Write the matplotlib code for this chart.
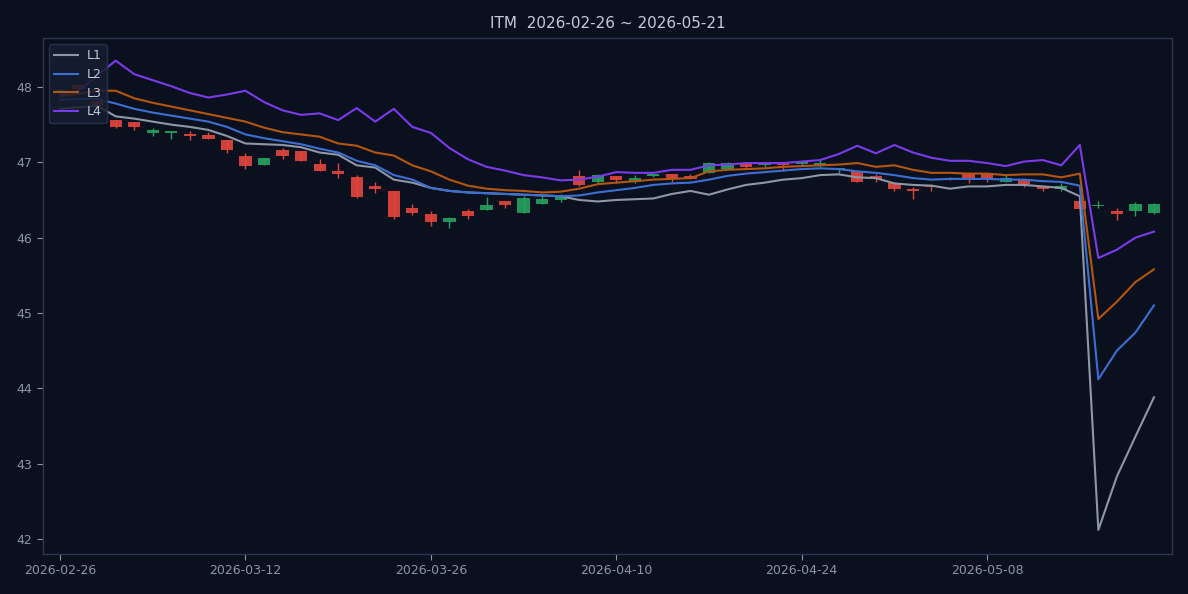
import matplotlib
matplotlib.use("Agg")
import matplotlib.pyplot as plt
from matplotlib.patches import Rectangle
import numpy as np
import pandas as pd

# ---- data ----
dates = [d.strftime("%Y-%m-%d") for d in pd.bdate_range("2026-02-26", "2026-05-21")
         if d.strftime("%Y-%m-%d") != "2026-04-03"]

opens = [47.92, 48.03, 47.82, 47.56, 47.53, 47.39, 47.39, 47.38, 47.36, 47.29,
         47.09, 46.97, 47.16, 47.15, 46.98, 46.89, 46.81, 46.68, 46.62, 46.40,
         46.31, 46.21, 46.35, 46.37, 46.49, 46.33, 46.44, 46.50, 46.82, 46.74,
         46.82, 46.74, 46.82, 46.84, 46.82, 46.86, 46.91, 46.99, 46.96, 46.99,
         46.98, 46.97, 46.91, 46.88, 46.82, 46.72, 46.65, 46.69, 46.79, 46.84,
         46.84, 46.74, 46.76, 46.67, 46.65, 46.48, 46.42, 46.35, 46.35, 46.33]
highs = [47.97, 48.04, 47.83, 47.56, 47.53, 47.45, 47.41, 47.42, 47.40, 47.29,
         47.12, 47.06, 47.19, 47.15, 47.05, 46.99, 46.83, 46.74, 46.62, 46.45,
         46.35, 46.28, 46.38, 46.54, 46.49, 46.55, 46.55, 46.58, 46.90, 46.85,
         46.82, 46.83, 46.85, 46.85, 46.85, 47.01, 47.01, 46.99, 47.00, 47.00,
         47.02, 47.03, 46.93, 46.88, 46.85, 46.74, 46.67, 46.71, 46.81, 46.85,
         46.84, 46.83, 46.76, 46.68, 46.72, 46.48, 46.48, 46.39, 46.47, 46.46]
lows = [47.91, 47.96, 47.74, 47.45, 47.43, 47.35, 47.31, 47.29, 47.31, 47.13,
        46.91, 46.96, 47.04, 47.02, 46.89, 46.79, 46.52, 46.59, 46.25, 46.30,
        46.16, 46.13, 46.25, 46.37, 46.39, 46.33, 46.44, 46.47, 46.69, 46.71,
        46.73, 46.72, 46.80, 46.74, 46.78, 46.86, 46.91, 46.91, 46.94, 46.89,
        46.95, 46.94, 46.86, 46.74, 46.74, 46.62, 46.51, 46.62, 46.77, 46.73,
        46.74, 46.74, 46.67, 46.62, 46.62, 46.38, 46.39, 46.24, 46.29, 46.31]
closes = [47.96, 47.97, 47.75, 47.47, 47.47, 47.43, 47.41, 47.35, 47.31, 47.16,
          46.95, 47.06, 47.08, 47.02, 46.89, 46.85, 46.54, 46.65, 46.28, 46.33,
          46.21, 46.26, 46.29, 46.43, 46.43, 46.53, 46.51, 46.55, 46.70, 46.83,
          46.76, 46.79, 46.85, 46.79, 46.78, 46.99, 46.99, 46.94, 46.97, 46.97,
          47.00, 46.98, 46.92, 46.74, 46.78, 46.64, 46.62, 46.67, 46.78, 46.76,
          46.78, 46.79, 46.71, 46.64, 46.69, 46.38, 46.43, 46.32, 46.45, 46.45]

L1 = [47.71, 47.73, 47.75, 47.61, 47.58, 47.54, 47.50, 47.47, 47.43, 47.35,
      47.25, 47.24, 47.23, 47.20, 47.13, 47.10, 46.96, 46.93, 46.77, 46.73,
      46.66, 46.62, 46.60, 46.59, 46.58, 46.57, 46.56, 46.55, 46.50, 46.48,
      46.50, 46.51, 46.52, 46.58, 46.62, 46.57, 46.64, 46.70, 46.73, 46.77,
      46.79, 46.83, 46.84, 46.80, 46.79, 46.72, 46.70, 46.69, 46.65, 46.68,
      46.68, 46.70, 46.70, 46.68, 46.66, 46.55, 42.12, 42.83, 43.36, 43.88]
L2 = [47.83, 47.84, 47.84, 47.78, 47.71, 47.66, 47.62, 47.58, 47.54, 47.47,
      47.37, 47.32, 47.28, 47.24, 47.18, 47.13, 47.02, 46.96, 46.83, 46.77,
      46.66, 46.62, 46.60, 46.59, 46.58, 46.57, 46.56, 46.55, 46.56, 46.60,
      46.63, 46.66, 46.70, 46.72, 46.73, 46.77, 46.82, 46.85, 46.87, 46.89,
      46.91, 46.92, 46.91, 46.88, 46.86, 46.83, 46.79, 46.77, 46.78, 46.78,
      46.78, 46.77, 46.77, 46.75, 46.74, 46.69, 44.12, 44.50, 44.74, 45.10]
L3 = [47.88, 47.91, 47.95, 47.95, 47.85, 47.79, 47.74, 47.69, 47.64, 47.59,
      47.54, 47.46, 47.40, 47.37, 47.34, 47.25, 47.22, 47.13, 47.09, 46.96,
      46.88, 46.77, 46.69, 46.65, 46.63, 46.62, 46.60, 46.61, 46.65, 46.71,
      46.73, 46.75, 46.77, 46.78, 46.79, 46.88, 46.90, 46.91, 46.92, 46.94,
      46.95, 46.96, 46.97, 46.99, 46.94, 46.96, 46.90, 46.86, 46.86, 46.85,
      46.85, 46.83, 46.84, 46.84, 46.80, 46.85, 44.92, 45.15, 45.41, 45.58]
L4 = [47.90, 47.95, 48.15, 48.35, 48.17, 48.09, 48.01, 47.92, 47.86, 47.90,
      47.95, 47.80, 47.69, 47.63, 47.65, 47.56, 47.72, 47.54, 47.71, 47.47,
      47.39, 47.19, 47.04, 46.94, 46.89, 46.83, 46.80, 46.76, 46.77, 46.81,
      46.87, 46.86, 46.86, 46.90, 46.90, 46.96, 46.97, 46.99, 46.99, 46.99,
      47.01, 47.03, 47.11, 47.22, 47.12, 47.23, 47.13, 47.06, 47.02, 47.02,
      46.99, 46.95, 47.01, 47.03, 46.96, 47.23, 45.73, 45.84, 46.00, 46.08]

series_names = ["L1", "L2", "L3", "L4"]
series_colors = ["#8e97a6", "#3b6fd4", "#b4560f", "#7c3aed"]

# ---- style ----
BG = "#0b101e"
SPINE = "#2c3552"
TICK = "#8c95a8"

fig = plt.figure(figsize=(11.88, 5.94), dpi=100, facecolor=BG)
ax = fig.add_axes([0.0362, 0.0673, 0.9503, 0.8687])
ax.set_facecolor(BG)

x = np.arange(len(dates))
UP = "#26a05f"
DOWN = "#e0453c"
w = 0.66
for i in range(len(dates)):
    o, h, l, c = opens[i], highs[i], lows[i], closes[i]
    col = UP if c >= o else DOWN
    ax.vlines(x[i], l, h, color=col, linewidth=1.0, zorder=2)
    bot = min(o, c)
    hgt = max(abs(c - o), 0.018)
    ax.add_patch(Rectangle((x[i] - w / 2, bot), w, hgt, facecolor=col,
                           edgecolor="none", alpha=0.92, zorder=2))

for name, vals, col in zip(series_names, [L1, L2, L3, L4], series_colors):
    ax.plot(x, vals, color=col, linewidth=1.5, label=name, zorder=3)

ax.set_xlim(-0.92, 59.97)
ax.set_ylim(41.80, 48.65)
ax.set_yticks([42, 43, 44, 45, 46, 47, 48])
tick_idx = list(range(0, len(dates), 10))
ax.set_xticks(tick_idx)
ax.set_xticklabels([dates[i] for i in tick_idx])

for s in ax.spines.values():
    s.set_color(SPINE)
    s.set_linewidth(1.0)
ax.tick_params(colors=TICK, labelsize=9, length=4, width=0.8)
for lab in ax.get_xticklabels() + ax.get_yticklabels():
    lab.set_color(TICK)

ax.set_title("ITM  2026-02-26 ~ 2026-05-21", color="#c3cad8", fontsize=11, pad=7)

leg = ax.legend(loc="upper left", fontsize=9, frameon=True, facecolor="#161d2f",
                edgecolor=SPINE, framealpha=0.85, handlelength=1.9,
                handletextpad=0.7, borderpad=0.4, labelspacing=0.45)
for t in leg.get_texts():
    t.set_color("#c3cad8")

fig.savefig("out.png", dpi=100, facecolor=BG)
